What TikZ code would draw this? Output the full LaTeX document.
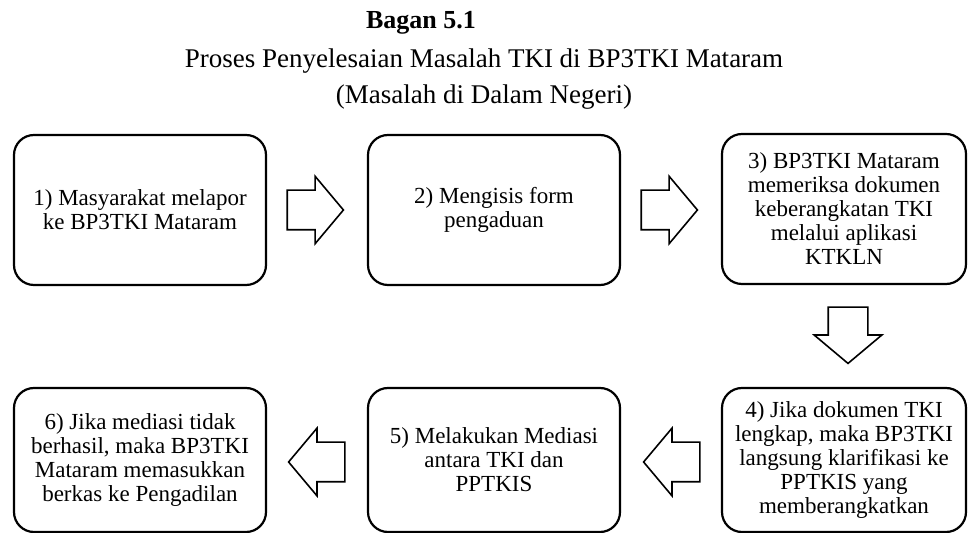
\documentclass[tikz,border=0pt]{standalone}
\usepackage{fontspec}
\setmainfont{Liberation Serif}
\usetikzlibrary{shapes.arrows}

\tikzset{
  langkah/.style={draw, line width=1.1pt, rounded corners=10pt, align=center,
    minimum width=126pt, minimum height=75pt, inner sep=2pt,
    font=\fontsize{11.5}{12}\selectfont},
  panah/.style={single arrow, draw, line width=0.8pt, inner sep=9.5pt,
    minimum height=27.5pt, single arrow head extend=7pt,
    single arrow tip angle=100, single arrow head indent=0pt}
}

\begin{document}
\begin{tikzpicture}[x=0.5pt,y=-0.5pt]
            \useasboundingbox (0,0) rectangle (968,533);
            % judul
            \node (judul) at (421,29)[anchor=base]{\fontsize{13}{15}\selectfont\bfseries Bagan 5.1};
            \node (judula) at (484,68)[anchor=base]{\fontsize{13.5}{16}\selectfont Proses Penyelesaian Masalah TKI di BP3TKI Mataram};
            \node (judulb) at (484,104)[anchor=base]{\fontsize{13.5}{16}\selectfont (Masalah di Dalam Negeri)};
            % baris atas
            \node (l1) at (140,210)[langkah]{1) Masyarakat melapor\\ke BP3TKI Mataram};
            \node (l2) at (494,210)[langkah]{2) Mengisis form\\pengaduan};
            \node (l3) at (844,209)[langkah, minimum width=122pt]{3) BP3TKI Mataram\\memeriksa dokumen\\keberangkatan TKI\\melalui aplikasi\\KTKLN};
            % baris bawah
            \node (l4) at (844,460)[langkah, minimum width=122pt, minimum height=72pt]{4) Jika dokumen TKI\\lengkap, maka BP3TKI\\langsung klarifikasi ke\\PPTKIS yang\\memberangkatkan};
            \node (l5) at (494,460)[langkah, minimum height=72pt]{5) Melakukan Mediasi\\antara TKI dan\\PPTKIS};
            \node (l6) at (140,460)[langkah, minimum height=72pt]{6) Jika mediasi tidak\\berhasil, maka BP3TKI\\Mataram memasukkan\\berkas ke Pengadilan};
            % panah
            \node (p12) at (307,210)[panah]{};
            \node (p23) at (661,210)[panah]{};
            \node (p34) at (848,327)[panah, shape border rotate=270]{};
            \node (p45) at (680,462)[panah, shape border rotate=180]{};
            \node (p56) at (325,462)[panah, shape border rotate=180]{};
        \end{tikzpicture}
\end{document}
